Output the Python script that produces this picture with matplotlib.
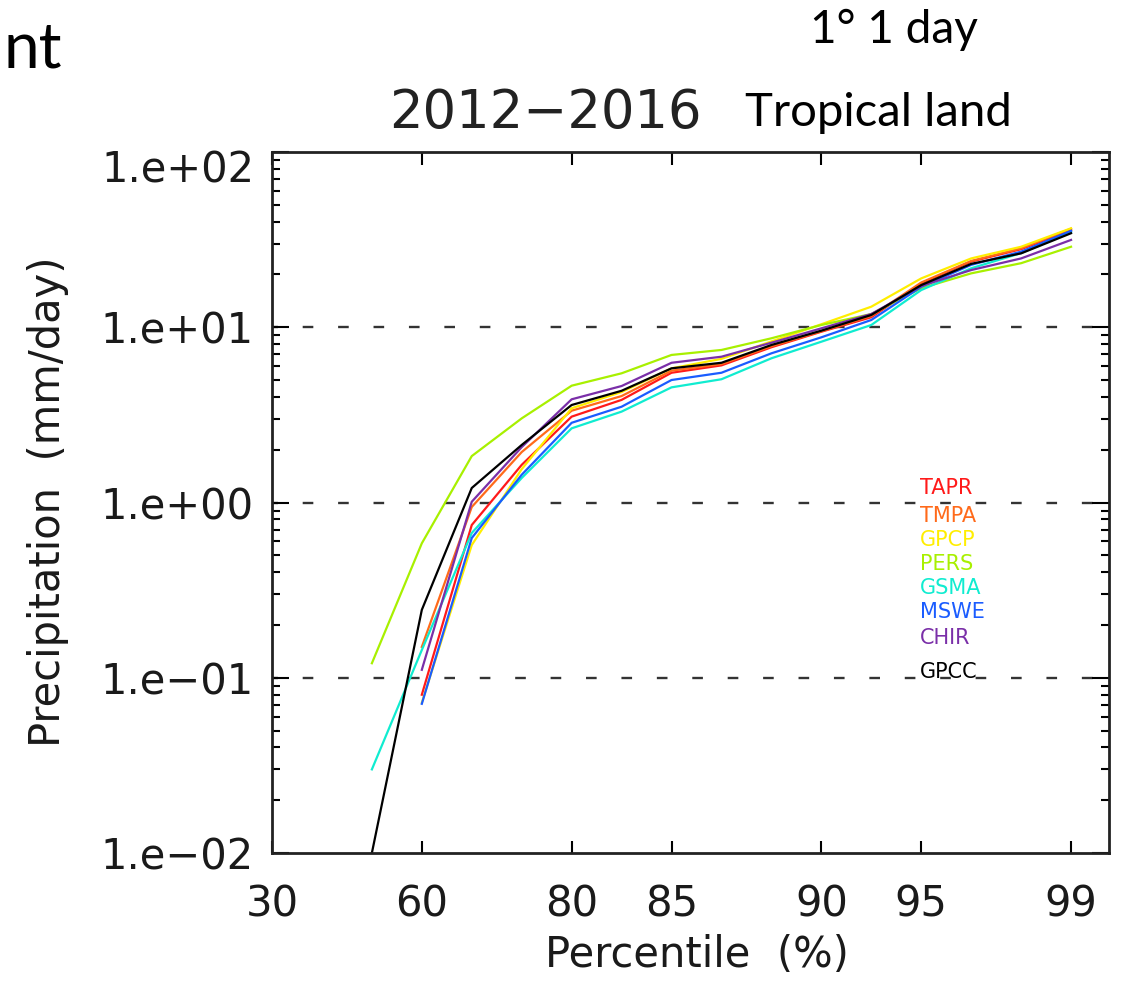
"""
降水百分位曲线图（热带陆地，1° 1 day，2012-2016）
"""
import numpy as np
import matplotlib.pyplot as plt
import matplotlib.transforms as mtransforms
from matplotlib import font_manager

W, H = 1140, 982

# x 轴按百分位点的序号排列，只在部分点上标注
x_pos = np.arange(2, 17)
tick_pos = [0, 3, 6, 8, 11, 13, 16]
tick_labels = ['30', '60', '80', '85', '90', '95', '99']

y_ticks = [1e-2, 1e-1, 1e0, 1e1, 1e2]
y_labels = ['1.e\u221202', '1.e\u221201', '1.e+00', '1.e+01', '1.e+02']

names = ['TAPR', 'TMPA', 'GPCP', 'PERS', 'GSMA', 'MSWE', 'CHIR', 'GPCC']
colors = ['#ff1a1a', '#ff6a1a', '#ffee00', '#a8f000', '#10ecd0', '#1a5cff', '#7a2fa8', '#000000']

nan = np.nan
tapr = [nan, 0.080, 0.744, 1.64, 3.09, 3.85, 5.50, 6.06, 7.69, 9.43, 11.4, 17.8, 23.7, 27.9, 35.9]
tmpa = [nan, 0.150, 0.943, 1.94, 3.34, 4.05, 5.65, 6.17, 7.80, 9.50, 11.6, 18.0, 23.9, 28.2, 36.5]
gpcp = [nan, 0.072, 0.572, 1.55, 3.45, 4.27, 5.83, 6.60, 8.30, 10.4, 13.1, 19.0, 24.7, 28.8, 36.7]
pers = [0.121, 0.585, 1.84, 3.02, 4.64, 5.46, 6.95, 7.42, 8.65, 10.3, 11.9, 16.7, 20.3, 23.2, 28.8]
gsma = [0.030, 0.144, 0.670, 1.38, 2.65, 3.30, 4.54, 5.05, 6.65, 8.27, 10.3, 16.3, 21.7, 26.5, 35.0]
mswe = [nan, 0.071, 0.627, 1.44, 2.85, 3.52, 5.00, 5.50, 7.10, 8.76, 11.0, 17.0, 22.7, 27.0, 35.5]
chir = [nan, 0.111, 1.01, 2.07, 3.88, 4.62, 6.27, 6.79, 8.16, 9.86, 11.9, 17.2, 21.2, 24.7, 31.5]
gpcc = [0.010, 0.244, 1.21, 2.13, 3.60, 4.34, 5.83, 6.27, 7.92, 9.56, 11.75, 17.4, 23.0, 26.4, 34.4]
series = [tapr, tmpa, gpcp, pers, gsma, mswe, chir, gpcc]

# 图例文字位置（像素）
legend_x = 920
legend_y = [488, 516, 540, 564, 588, 612, 638, 672]

installed = {f.name for f in font_manager.fontManager.ttflist}
narrow = 'Liberation Sans Narrow' if 'Liberation Sans Narrow' in installed else 'DejaVu Sans'
legend_size = 17 if narrow != 'DejaVu Sans' else 15

plt.rcParams['font.family'] = ['DejaVu Sans']


def px(x, y):
    return x / W, 1 - y / H


fig = plt.figure(figsize=(W / 100, H / 100), dpi=100)
ax = fig.add_axes([272 / W, 1 - 853 / H, (1109 - 272) / W, (853 - 152) / H])

for vals, c in zip(series, colors):
    ax.plot(x_pos, vals, color=c, lw=1.6)

for yv in [0.1, 1, 10]:
    ax.axhline(yv, color='#333333', lw=1.7, ls=(2, (4.5, 10.5)), zorder=0)

ax.set_yscale('log')
ax.set_ylim(1e-2, 1e2)
ax.set_xlim(0, 16.76)
ax.set_xticks(tick_pos)
ax.set_xticklabels(tick_labels)
ax.set_yticks(y_ticks)
ax.set_yticklabels(y_labels)
ax.tick_params(axis='both', which='both', direction='in', top=True, right=True,
               labelsize=30, width=1.5, labelcolor='#1a1a1a')
ax.tick_params(axis='x', which='major', length=9, pad=22)
ax.tick_params(axis='y', which='major', length=12, pad=13)
ax.tick_params(axis='y', which='minor', length=6)
ax.tick_params(axis='x', which='minor', bottom=False, top=False)
for sp in ax.spines.values():
    sp.set_linewidth(2)
    sp.set_color('#222222')

# 最上面的刻度标签在原图里往下挪了一点
top_lab = ax.get_yticklabels()[-1]
top_lab.set_transform(top_lab.get_transform() +
                      mtransforms.ScaledTranslation(0, -14 / 100, fig.dpi_scale_trans))

# 图例：彩色文字
for name, c, ly in zip(names, colors, legend_y):
    fig.text(*px(legend_x, ly), name, color=c, fontsize=legend_size,
             family=narrow, ha='left', va='center')

fig.text(*px(48, 502), 'Precipitation  (mm/day)', rotation=90, fontsize=30,
         ha='center', va='center', color='#1a1a1a')
fig.text(*px(697, 955), 'Percentile  (%)', fontsize=30, ha='center', va='center',
         color='#1a1a1a')

fig.text(*px(545, 128), '2012\u22122016', fontsize=38, ha='center', va='baseline', color='#222222')
fig.text(*px(745, 126), 'Tropical land', fontsize=34, family='Lato', ha='left', va='baseline')
fig.text(*px(810, 43), '1\u00b0 1 day', fontsize=33, family='Lato', ha='left', va='baseline')
fig.text(*px(3, 67), 'nt', fontsize=46, family='Lato', ha='left', va='baseline')

fig.savefig('out.png', dpi=100)
